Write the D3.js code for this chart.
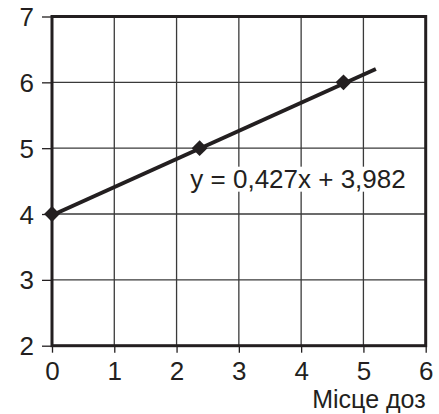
<!DOCTYPE html>
<html><head><meta charset="utf-8">
<script src="https://cdn.jsdelivr.net/npm/d3@7"></script>
<style>body{margin:0;background:#fff}svg{display:block}</style>
</head><body>
<script>
const xTicks = [0,1,2,3,4,5,6];
const yTicks = [2,3,4,5,6,7];
const pointsX = [0, 2.37, 4.68];
const pointsY = [4, 5, 6];
const slope = 0.427, intercept = 3.982;
const trendRange = [0, 5.2];
const equationLabel = "y = 0,427x + 3,982";
const xTitle = "Місце доз";

const W = 439, H = 414;
const m = {left:52, top:16.5, right:13.3, bottom:68.3};
const ink = "#231f20";
const font = "'Liberation Sans', Arial, sans-serif";

const svg = d3.select("body").append("svg").attr("width", W).attr("height", H);
const x = d3.scaleLinear().domain([0,6]).range([m.left, W - m.right]);
const y = d3.scaleLinear().domain([2,7]).range([H - m.bottom, m.top]);

// gridlines
svg.append("g").selectAll("line").data(xTicks.slice(1,-1)).join("line")
  .attr("x1", d=>x(d)).attr("x2", d=>x(d)).attr("y1", y(2)).attr("y2", y(7))
  .attr("stroke", "#3a3a3a").attr("stroke-width", 1.3);
svg.append("g").selectAll("line").data(yTicks.slice(1,-1)).join("line")
  .attr("y1", d=>y(d)).attr("y2", d=>y(d)).attr("x1", x(0)).attr("x2", x(6))
  .attr("stroke", "#3a3a3a").attr("stroke-width", 1.3);

// axes
const xAxis = d3.axisBottom(x).tickValues(xTicks).tickSize(7).tickFormat(d3.format("d"));
const gx = svg.append("g").attr("transform", `translate(0,${y(2)})`).call(xAxis);
gx.select(".domain").remove();
gx.selectAll("line").attr("stroke", ink).attr("stroke-width", 1.3);
gx.selectAll("text").attr("font-family", font).attr("font-size", 26).attr("fill", ink)
  .attr("y", 34).attr("dy", 0);

const yAxis = d3.axisLeft(y).tickValues(yTicks).tickSize(10).tickPadding(8).tickFormat(d3.format("d"));
const gy = svg.append("g").attr("transform", `translate(${x(0)},0)`).call(yAxis);
gy.select(".domain").remove();
gy.selectAll("line").attr("stroke", ink).attr("stroke-width", 1.3);
gy.selectAll("text").attr("font-family", font).attr("font-size", 26).attr("fill", ink)
  .attr("dy", 0).attr("y", 9);

// frame
svg.append("rect").attr("x", x(0)).attr("y", y(7)).attr("width", x(6)-x(0)).attr("height", y(2)-y(7))
  .attr("fill", "none").attr("stroke", ink).attr("stroke-width", 3);

// equation label with white background
const eqG = svg.append("g");
const bgRect = eqG.append("rect").attr("fill", "#fff");
const eq = eqG.append("text").attr("x", x(3.95)).attr("y", y(4.4)).attr("text-anchor", "middle")
  .attr("font-family", font).attr("font-size", 26).attr("fill", ink).text(equationLabel);
const bb = eq.node().getBBox();
bgRect.attr("x", bb.x - 3).attr("y", bb.y + 3).attr("width", bb.width + 6).attr("height", bb.height - 5);

// trendline
svg.append("line")
  .attr("x1", x(trendRange[0])).attr("y1", y(slope*trendRange[0]+intercept))
  .attr("x2", x(trendRange[1])).attr("y2", y(slope*trendRange[1]+intercept))
  .attr("stroke", ink).attr("stroke-width", 4);

// markers
svg.append("g").selectAll("path").data(pointsX.map((d,i)=>[d, pointsY[i]])).join("path")
  .attr("d", d3.symbol(d3.symbolDiamond2, 160)())
  .attr("transform", d=>`translate(${x(d[0])},${y(d[1])})`)
  .attr("fill", ink);

// x title
svg.append("text").attr("x", x(6)).attr("y", 408).attr("text-anchor", "end")
  .attr("font-family", font).attr("font-size", 25).attr("fill", ink).text(xTitle);
</script>
</body></html>
